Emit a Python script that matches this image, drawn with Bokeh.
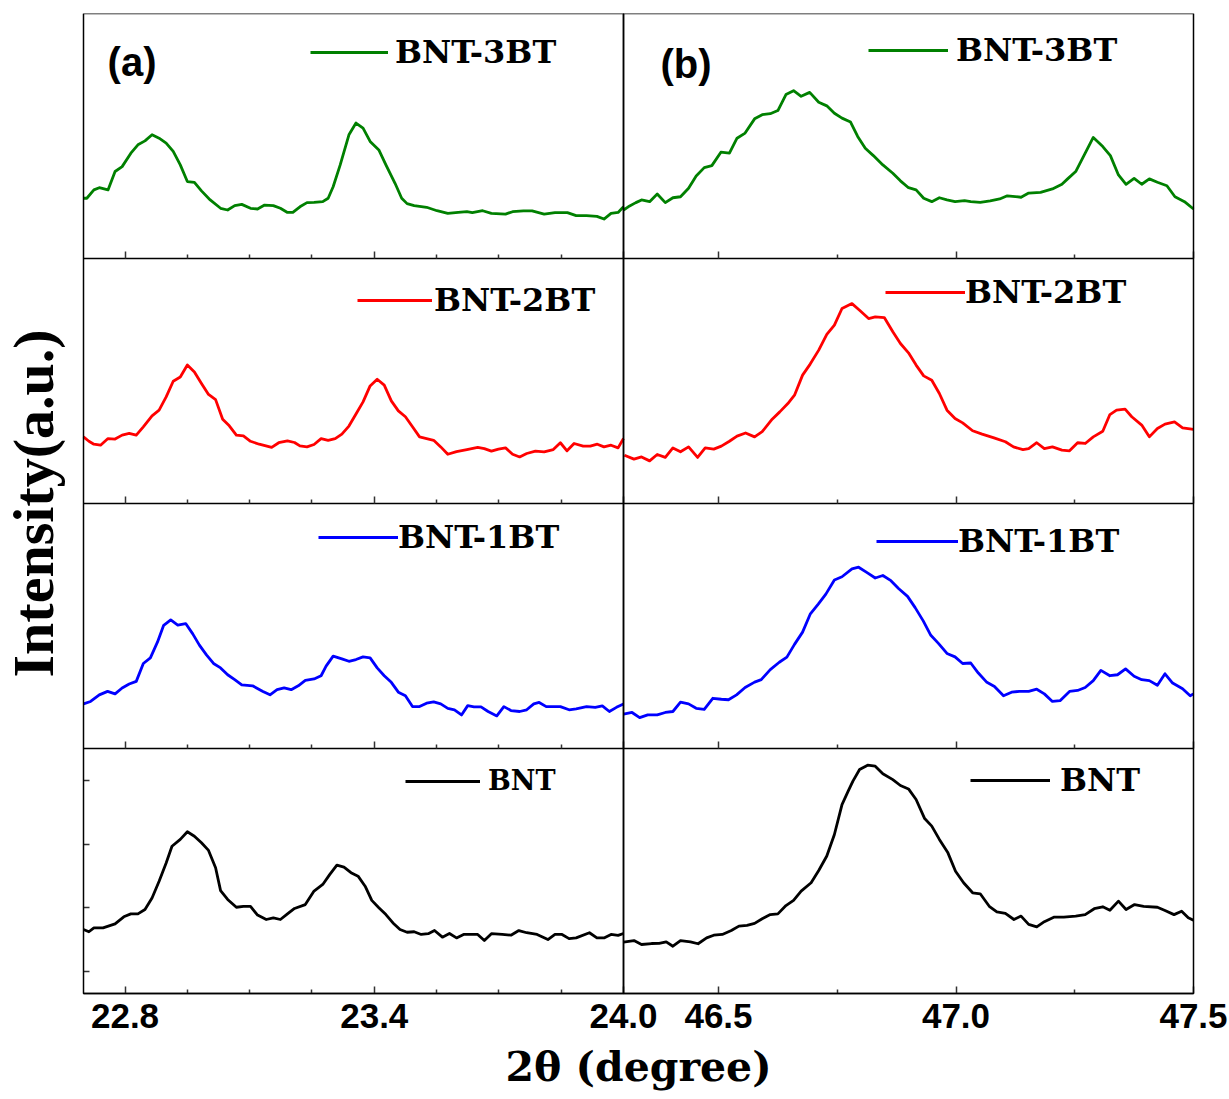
from bokeh.plotting import figure
from bokeh.models import (Range1d, LinearAxis, FixedTicker, BoxAnnotation, Legend, LegendItem,
                          Label, PrintfTickFormatter)
from bokeh.embed import file_html
from bokeh.resources import INLINE

# ------------------------------------------------------------------ data
samples = ["BNT", "BNT-1BT", "BNT-2BT", "BNT-3BT"]          # bottom -> top
sample_colors = ["#000000", "#0000ff", "#ff0000", "#008000"]

left_xlim = (22.7, 24.0)
right_xlim = (46.3, 47.5)
left_major_ticks = [22.8, 23.4, 24.0]
left_minor_ticks = [22.95, 23.1, 23.25, 23.55, 23.7, 23.85]
right_major_ticks = [46.5, 47.0, 47.5]
right_minor_ticks = [46.75, 47.25]
bnt_intensity_ticks = [9, 35, 61, 87]

# ---- (a) 22.7-24.0 deg
bnt3_a_x = [22.700, 22.708, 22.725, 22.738, 22.759, 22.776, 22.793, 22.814, 22.831, 22.848,
            22.865, 22.882, 22.899, 22.916, 22.933, 22.950, 22.967, 22.984, 23.005, 23.030,
            23.047, 23.064, 23.081, 23.102, 23.119, 23.136, 23.157, 23.174, 23.191, 23.204,
            23.221, 23.238, 23.255, 23.276, 23.289, 23.301, 23.318, 23.339, 23.356, 23.373,
            23.390, 23.411, 23.428, 23.450, 23.466, 23.479, 23.496, 23.526, 23.551, 23.577,
            23.602, 23.623, 23.636, 23.661, 23.682, 23.716, 23.733, 23.759, 23.780, 23.809,
            23.835, 23.865, 23.886, 23.911, 23.936, 23.953, 23.970, 23.987, 24.000]
bnt3_a_y = [24.6, 24.6, 28.0, 28.9, 28.0, 35.5, 37.5, 43.0, 46.4, 48.0,
            50.5, 49.1, 47.1, 43.7, 38.2, 31.4, 31.1, 27.6, 23.9, 20.5,
            19.8, 21.6, 22.1, 20.5, 20.2, 21.8, 21.6, 20.5, 18.8, 18.8,
            21.1, 22.8, 22.9, 23.2, 24.6, 29.3, 38.2, 50.5, 55.3, 53.2,
            47.8, 44.3, 38.2, 30.7, 24.6, 22.4, 21.6, 20.9, 19.5, 18.4,
            18.8, 19.1, 18.7, 19.5, 18.4, 18.1, 19.1, 19.4, 19.4, 18.1,
            18.7, 18.7, 17.5, 17.5, 17.2, 16.1, 18.4, 18.8, 21.1]

bnt2_a_x = [22.700, 22.713, 22.725, 22.741, 22.759, 22.776, 22.793, 22.810, 22.827, 22.844,
            22.865, 22.882, 22.899, 22.916, 22.933, 22.950, 22.967, 22.984, 23.001, 23.018,
            23.035, 23.051, 23.068, 23.085, 23.102, 23.123, 23.153, 23.170, 23.191, 23.208,
            23.221, 23.238, 23.255, 23.272, 23.289, 23.306, 23.322, 23.339, 23.356, 23.373,
            23.390, 23.407, 23.424, 23.441, 23.458, 23.475, 23.492, 23.509, 23.526, 23.543,
            23.560, 23.577, 23.598, 23.623, 23.649, 23.665, 23.682, 23.699, 23.716, 23.733,
            23.750, 23.767, 23.788, 23.809, 23.831, 23.848, 23.864, 23.881, 23.903, 23.920,
            23.937, 23.953, 23.970, 23.987, 24.000]
bnt2_a_y = [27.2, 25.4, 24.2, 23.8, 26.5, 26.3, 27.9, 28.6, 27.9, 31.3,
            35.8, 38.1, 43.5, 49.9, 51.6, 56.5, 53.7, 49.0, 44.5, 42.4,
            34.4, 31.7, 27.9, 27.6, 25.4, 24.2, 22.9, 24.8, 25.6, 24.9,
            23.5, 23.1, 24.1, 26.5, 25.8, 26.5, 28.3, 31.6, 36.5, 41.5,
            48.0, 50.7, 48.3, 41.9, 37.8, 35.4, 31.3, 27.2, 26.5, 25.8,
            23.1, 20.1, 21.2, 22.0, 22.9, 22.4, 21.4, 22.2, 22.7, 20.1,
            19.0, 20.4, 21.4, 21.1, 22.0, 24.8, 21.5, 24.5, 23.4, 23.4,
            24.2, 23.1, 23.8, 22.7, 26.5]

bnt1_a_x = [22.700, 22.717, 22.738, 22.758, 22.776, 22.793, 22.810, 22.827, 22.844, 22.861,
            22.878, 22.893, 22.910, 22.927, 22.946, 22.963, 22.979, 22.996, 23.013, 23.030,
            23.047, 23.064, 23.081, 23.107, 23.132, 23.149, 23.166, 23.183, 23.200, 23.217,
            23.234, 23.255, 23.272, 23.284, 23.301, 23.322, 23.339, 23.356, 23.373, 23.390,
            23.407, 23.424, 23.441, 23.458, 23.475, 23.492, 23.509, 23.526, 23.543, 23.560,
            23.577, 23.593, 23.610, 23.625, 23.640, 23.657, 23.674, 23.695, 23.712, 23.729,
            23.750, 23.767, 23.784, 23.797, 23.814, 23.848, 23.869, 23.886, 23.911, 23.932,
            23.949, 23.966, 23.983, 24.000]
bnt1_a_y = [18.2, 19.2, 21.9, 23.3, 22.3, 24.7, 26.3, 27.4, 34.7, 37.0,
            43.4, 50.3, 52.5, 50.4, 51.0, 46.8, 42.2, 38.2, 34.7, 32.9,
            30.1, 28.1, 26.0, 25.6, 23.3, 21.9, 24.0, 24.7, 24.0, 25.6,
            27.8, 28.4, 29.7, 33.6, 37.7, 36.6, 35.6, 36.3, 37.4, 37.0,
            32.9, 29.7, 27.0, 23.0, 21.5, 17.1, 17.1, 18.5, 19.0, 18.2,
            16.4, 15.8, 13.7, 17.5, 17.0, 17.0, 15.1, 13.3, 17.1, 15.5,
            15.1, 15.8, 18.2, 18.8, 17.1, 17.1, 15.8, 16.2, 17.1, 16.8,
            17.4, 15.1, 16.8, 18.2]

bnt0_a_x = [22.700, 22.713, 22.725, 22.747, 22.776, 22.797, 22.814, 22.831, 22.848, 22.865,
            22.882, 22.899, 22.913, 22.933, 22.950, 22.967, 22.984, 23.001, 23.018, 23.030,
            23.047, 23.068, 23.085, 23.102, 23.119, 23.140, 23.157, 23.174, 23.191, 23.208,
            23.234, 23.255, 23.276, 23.293, 23.310, 23.327, 23.344, 23.361, 23.378, 23.394,
            23.411, 23.428, 23.445, 23.462, 23.479, 23.496, 23.513, 23.530, 23.545, 23.564,
            23.581, 23.598, 23.615, 23.649, 23.665, 23.682, 23.708, 23.729, 23.748, 23.767,
            23.792, 23.818, 23.835, 23.852, 23.869, 23.886, 23.918, 23.936, 23.953, 23.970,
            23.987, 24.000]
bnt0_a_y = [26.1, 25.2, 26.8, 26.8, 28.4, 31.3, 32.5, 32.5, 34.3, 39.0,
            45.8, 53.3, 60.1, 62.9, 66.0, 64.2, 61.5, 58.4, 51.3, 42.0,
            38.4, 35.2, 35.6, 35.6, 32.0, 30.2, 30.9, 30.2, 32.5, 34.7,
            36.3, 41.8, 44.5, 48.6, 52.4, 51.6, 49.3, 47.9, 43.8, 38.0,
            35.0, 32.2, 28.8, 26.1, 25.0, 25.2, 24.1, 24.4, 25.7, 23.0,
            24.5, 22.7, 24.1, 24.1, 21.6, 24.4, 24.1, 23.8, 25.7, 24.8,
            24.1, 22.0, 24.1, 24.1, 22.4, 22.7, 24.8, 22.7, 22.7, 24.1,
            23.7, 24.5]

# ---- (b) 46.3-47.5 deg
bnt3_b_x = [46.300, 46.310, 46.326, 46.338, 46.355, 46.371, 46.388, 46.404, 46.420, 46.437,
            46.453, 46.470, 46.486, 46.505, 46.523, 46.539, 46.556, 46.576, 46.592, 46.609,
            46.625, 46.642, 46.658, 46.674, 46.692, 46.711, 46.728, 46.744, 46.760, 46.778,
            46.793, 46.809, 46.826, 46.846, 46.867, 46.883, 46.900, 46.916, 46.932, 46.949,
            46.965, 46.981, 46.998, 47.018, 47.031, 47.051, 47.072, 47.092, 47.108, 47.137,
            47.153, 47.178, 47.203, 47.223, 47.235, 47.252, 47.272, 47.289, 47.309, 47.325,
            47.342, 47.358, 47.375, 47.391, 47.407, 47.424, 47.444, 47.461, 47.481, 47.500]
bnt3_b_y = [19.8, 21.1, 22.8, 23.9, 23.2, 26.3, 22.8, 24.8, 25.2, 28.7,
            33.7, 37.1, 37.9, 43.4, 43.0, 49.1, 51.2, 57.0, 58.7, 59.1,
            60.4, 66.9, 68.5, 66.2, 67.8, 63.8, 62.3, 59.3, 57.3, 55.7,
            49.8, 45.0, 42.0, 38.2, 34.8, 31.7, 28.9, 28.0, 24.6, 23.2,
            24.8, 23.9, 23.2, 23.6, 23.2, 22.9, 23.5, 24.3, 25.6, 25.0,
            26.7, 27.0, 28.4, 30.3, 32.5, 35.5, 43.0, 49.4, 45.7, 42.0,
            34.1, 30.3, 32.7, 30.3, 32.5, 31.1, 29.7, 25.2, 23.2, 20.2]

bnt2_b_x = [46.302, 46.322, 46.338, 46.355, 46.371, 46.388, 46.404, 46.420, 46.437, 46.456,
            46.472, 46.490, 46.506, 46.523, 46.539, 46.557, 46.576, 46.592, 46.613, 46.629,
            46.646, 46.660, 46.677, 46.693, 46.711, 46.728, 46.744, 46.760, 46.781, 46.797,
            46.816, 46.830, 46.849, 46.867, 46.883, 46.900, 46.916, 46.932, 46.949, 46.965,
            46.981, 46.998, 47.014, 47.035, 47.055, 47.080, 47.104, 47.121, 47.141, 47.153,
            47.170, 47.186, 47.203, 47.223, 47.239, 47.256, 47.272, 47.289, 47.309, 47.324,
            47.338, 47.356, 47.370, 47.391, 47.407, 47.424, 47.440, 47.460, 47.477, 47.500]
bnt2_b_y = [19.7, 18.1, 19.0, 17.4, 20.0, 18.8, 22.7, 21.1, 23.1, 18.8,
            22.7, 22.2, 23.4, 25.4, 27.5, 28.8, 27.2, 29.3, 34.4, 37.4,
            40.8, 44.2, 52.4, 56.9, 62.6, 69.0, 72.8, 79.6, 81.6, 78.9,
            75.5, 76.2, 75.9, 70.1, 65.3, 61.5, 56.5, 52.1, 50.3, 44.9,
            38.1, 34.7, 32.9, 29.7, 28.3, 26.8, 25.2, 23.1, 22.0, 22.4,
            24.8, 22.4, 23.1, 21.8, 21.5, 24.8, 24.5, 27.2, 29.5, 36.3,
            38.1, 38.5, 35.4, 32.0, 27.2, 30.6, 32.4, 33.3, 30.9, 30.3]

bnt1_b_x = [46.300, 46.318, 46.334, 46.351, 46.371, 46.388, 46.404, 46.420, 46.437, 46.453,
            46.470, 46.488, 46.506, 46.521, 46.538, 46.556, 46.576, 46.590, 46.609, 46.628,
            46.644, 46.660, 46.677, 46.693, 46.710, 46.726, 46.744, 46.760, 46.781, 46.795,
            46.812, 46.830, 46.846, 46.863, 46.879, 46.898, 46.914, 46.931, 46.947, 46.963,
            46.981, 46.998, 47.014, 47.031, 47.047, 47.065, 47.081, 47.100, 47.117, 47.133,
            47.153, 47.170, 47.186, 47.203, 47.219, 47.239, 47.256, 47.272, 47.289, 47.305,
            47.324, 47.340, 47.357, 47.375, 47.391, 47.407, 47.424, 47.440, 47.456, 47.477,
            47.493, 47.500]
bnt1_b_y = [14.0, 14.7, 12.6, 13.7, 13.7, 14.7, 15.1, 18.9, 18.2, 16.4,
            16.0, 20.5, 20.1, 19.9, 21.9, 24.9, 27.1, 28.1, 32.2, 35.2,
            37.3, 42.5, 47.5, 54.8, 58.9, 63.0, 68.8, 70.1, 73.3, 74.0,
            71.9, 69.6, 70.6, 68.5, 65.3, 62.1, 57.5, 52.1, 46.2, 42.9,
            38.8, 37.4, 34.7, 34.9, 30.8, 27.0, 25.3, 21.5, 23.0, 23.3,
            23.3, 24.2, 22.3, 19.2, 19.5, 23.3, 23.7, 24.9, 27.7, 31.9,
            29.7, 30.1, 32.5, 29.5, 28.1, 27.7, 25.8, 30.5, 26.7, 24.4,
            21.5, 22.3]

bnt0_b_x = [46.300, 46.322, 46.338, 46.359, 46.375, 46.390, 46.404, 46.420, 46.441, 46.457,
            46.475, 46.490, 46.508, 46.527, 46.543, 46.560, 46.576, 46.592, 46.609, 46.625,
            46.642, 46.658, 46.674, 46.695, 46.711, 46.728, 46.744, 46.760, 46.773, 46.783,
            46.797, 46.814, 46.830, 46.846, 46.867, 46.883, 46.900, 46.916, 46.934, 46.949,
            46.965, 46.983, 46.999, 47.016, 47.035, 47.051, 47.070, 47.086, 47.104, 47.122,
            47.137, 47.153, 47.170, 47.186, 47.207, 47.227, 47.252, 47.272, 47.291, 47.309,
            47.324, 47.342, 47.358, 47.376, 47.395, 47.424, 47.440, 47.459, 47.475, 47.489,
            47.500]
bnt0_b_y = [21.0, 21.6, 20.0, 20.4, 20.5, 21.1, 19.3, 21.6, 21.1, 20.3,
            22.7, 23.8, 24.1, 25.7, 27.5, 27.8, 28.6, 30.5, 32.2, 32.5,
            35.9, 38.0, 41.8, 45.2, 50.2, 56.1, 64.9, 77.1, 82.6, 86.7,
            91.4, 93.2, 92.8, 89.7, 87.3, 84.9, 83.5, 79.2, 71.4, 68.3,
            62.9, 57.4, 49.9, 45.2, 41.1, 40.7, 35.6, 33.3, 32.7, 30.2,
            31.6, 28.2, 27.2, 29.3, 31.2, 31.2, 31.6, 32.2, 34.6, 35.4,
            34.0, 37.7, 34.3, 36.3, 35.6, 35.2, 33.9, 32.2, 33.6, 30.9,
            29.9]

series_a = [(bnt0_a_x, bnt0_a_y), (bnt1_a_x, bnt1_a_y), (bnt2_a_x, bnt2_a_y), (bnt3_a_x, bnt3_a_y)]
series_b = [(bnt0_b_x, bnt0_b_y), (bnt1_b_x, bnt1_b_y), (bnt2_b_x, bnt2_b_y), (bnt3_b_x, bnt3_b_y)]

# ------------------------------------------------------------------ layout / style
W, H = 1229, 1099
BL, BT = 83, 13                  # offset of the panel block from the canvas left / top
DATA_W, DATA_H = 1110, 980       # pixel size of the panel block
PANEL_A_W = 540                  # pixel width of panel (a)
EXT_R = W - BL - DATA_W          # frame continues to the right (room for "47.5")
EXT_B = H - BT - DATA_H          # frame continues below (tick labels + title)
PANEL = 100.0                    # a.u. height of every panel
N = len(samples)

xl0, xl1 = left_xlim
xr0, xr1 = right_xlim
px_l = PANEL_A_W / (xl1 - xl0)
px_r = (DATA_W - PANEL_A_W) / (xr1 - xr0)
x_left = Range1d(xl0 - BL / px_l, xl0 + (DATA_W + EXT_R) / px_l)
x_right = Range1d(xr0 - (BL + PANEL_A_W) / px_r, xr1 + EXT_R / px_r)
xl_block_end = xl0 + DATA_W / px_l
row_px = DATA_H / N
ext_rows = EXT_B / row_px

p = figure(width=W, height=H, output_backend="svg", toolbar_location=None,
           x_range=x_left, y_range=Range1d(-ext_rows, N),
           x_axis_type=None, y_axis_type=None,
           min_border_left=0, min_border_right=0, min_border_top=BT, min_border_bottom=0,
           background_fill_color="white", border_fill_color="white")
p.outline_line_color = None
p.extra_x_ranges = {"R": x_right}
p.extra_y_ranges = {f"row{r}": Range1d(PANEL * (-r - ext_rows), PANEL * (N - r)) for r in range(N)}

TICK_FONT = "Liberation Sans"


def x_axis(range_name, row, major, minor, labels, line):
    kw = dict(y_range_name=f"row{row}", fixed_location=0,
              ticker=FixedTicker(ticks=major, minor_ticks=minor),
              formatter=PrintfTickFormatter(format="%.1f"),
              major_tick_in=7, major_tick_out=0, minor_tick_in=4, minor_tick_out=0,
              major_tick_line_width=1.5, minor_tick_line_width=1.5,
              major_tick_line_color="#333333", minor_tick_line_color="#333333",
              axis_line_width=1.5, axis_line_color="black" if line else None,
              major_label_standoff=10,
              major_label_text_font=TICK_FONT, major_label_text_font_style="bold",
              major_label_text_font_size="35px",
              major_label_text_color="black" if labels else None)
    if range_name != "default":
        kw["x_range_name"] = range_name
    else:
        kw["bounds"] = (xl0, xl_block_end)
    return LinearAxis(**kw)


# bottom axis of (a) carries the x title
main_x = x_axis("default", 0, left_major_ticks, left_minor_ticks, True, True)
main_x.axis_label = "2θ (degree)"
main_x.axis_label_text_font = "DejaVu Serif"
main_x.axis_label_text_font_style = "bold"
main_x.axis_label_text_font_size = "41px"
main_x.axis_label_text_color = "black"
main_x.axis_label_standoff = 12
p.add_layout(main_x, "below")
p.add_layout(x_axis("R", 0, right_major_ticks, right_minor_ticks, True, False), "below")
for r in range(1, N):
    p.add_layout(x_axis("default", r, left_major_ticks, left_minor_ticks, False, True), "below")
    p.add_layout(x_axis("R", r, right_major_ticks, right_minor_ticks, False, False), "below")

# y title, centred on the panel block
main_y = LinearAxis(fixed_location=xl0, bounds=(0, N), ticker=FixedTicker(ticks=[]),
                    axis_label="Intensity(a.u.)",
                    axis_label_text_font="Liberation Serif", axis_label_text_font_style="bold",
                    axis_label_text_font_size="58px", axis_label_text_color="black",
                    axis_label_standoff=18, major_label_standoff=0, major_tick_out=0,
                    axis_line_color=None)
p.add_layout(main_y, "left")
# intensity ticks of the BNT (a) panel
p.add_layout(LinearAxis(y_range_name="row0", fixed_location=xl0,
                        ticker=FixedTicker(ticks=bnt_intensity_ticks),
                        major_tick_in=6, major_tick_out=0, minor_tick_in=0, minor_tick_out=0,
                        major_tick_line_color="#333333", major_tick_line_width=1.5,
                        major_label_text_color=None, axis_line_color=None), "left")

# panel frames (a) and (b)
p.add_layout(BoxAnnotation(left=xl0, right=xl1, bottom=0, top=N, fill_color=None,
                           line_color="black", line_alpha=1.0, line_width=1.5))
p.add_layout(BoxAnnotation(left=xr0, right=xr1, bottom=0, top=N, x_range_name="R",
                           fill_color=None, line_color="black", line_alpha=1.0, line_width=1.5))

# legend placement per panel, relative to the panel block's bottom-left corner:
# (vx, vy, glyph_width, standoff, font size)
legend_a = [(322, 197, 75, 8, "27px"), (235, 437, 80, 0, "32px"),
            (274, 674, 75, 2, "32px"), (227, 922, 78, 7, "32px")]
legend_b = [(887, 194, 80, 10, "32px"), (793, 433, 82, 0, "32px"),
            (802, 682, 80, 0, "32px"), (785, 924, 80, 8, "32px")]

for r in range(N):
    for side, series, leg in (("default", series_a, legend_a), ("R", series_b, legend_b)):
        xs, ys = series[r]
        kw = dict(y_range_name=f"row{r}")
        if side != "default":
            kw["x_range_name"] = side
        ren = p.line(xs, ys, line_color=sample_colors[r], line_width=2.8, line_join="round", **kw)
        vx, vy, gw, st, fs = leg[r]
        lg = Legend(items=[LegendItem(label=samples[r], renderers=[ren])],
                    location=(vx + BL, vy + EXT_B), glyph_width=gw, glyph_height=20,
                    label_height=20, label_standoff=st, padding=0, margin=0, spacing=0,
                    border_line_color=None, background_fill_alpha=0,
                    label_text_font="DejaVu Serif", label_text_font_style="bold",
                    label_text_font_size=fs, label_text_color="black")
        p.add_layout(lg)

p.add_layout(Label(x=22.758, y=80.2, y_range_name=f"row{N-1}", text="(a)",
                   text_font="Liberation Sans", text_font_style="bold",
                   text_font_size="40px", text_baseline="middle", text_color="black"))
p.add_layout(Label(x=46.378, y=79.2, x_range_name="R", y_range_name=f"row{N-1}", text="(b)",
                   text_font="Liberation Sans", text_font_style="bold",
                   text_font_size="40px", text_baseline="middle", text_color="black"))

open("out.html", "w").write(file_html(p, INLINE))
